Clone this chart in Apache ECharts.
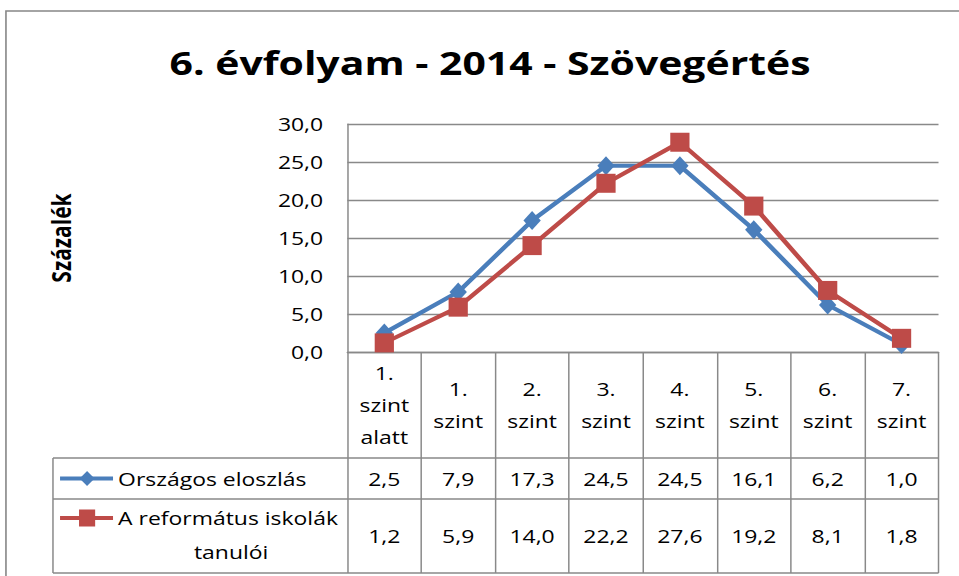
<!DOCTYPE html>
<html><head><meta charset="utf-8">
<script src="https://cdn.jsdelivr.net/npm/echarts@6/dist/echarts.min.js"></script>
<style>
html,body{margin:0;padding:0;background:#fff;overflow:hidden}
#c{width:773px;height:576px;transform:scaleX(1.2406);transform-origin:0 0}
</style>
</head><body><div id="c"></div>
<script>
const chartTitle = '6. évfolyam - 2014 - Szövegértés';
const yAxisTitle = 'Százalék';
const categories = ['1.\nszint\nalatt', '1.\nszint', '2.\nszint', '3.\nszint', '4.\nszint', '5.\nszint', '6.\nszint', '7.\nszint'];
const seriesNames = ['Országos eloszlás', 'A református iskolák tanulói'];
const orszagos = [2.5, 7.9, 17.3, 24.5, 24.5, 16.1, 6.2, 1.0];
const reformatus = [1.2, 5.9, 14.0, 22.2, 27.6, 19.2, 8.1, 1.8];
const yTicks = [0, 5, 10, 15, 20, 25, 30];
const colors = ['#4A7EBB', '#BE4B48'];

const FONT = '"Open Sans", sans-serif';
const FS = 18.5;
const fmt = v => v.toFixed(1).replace('.', ',');
const gray = '#898989';

const chart = echarts.init(document.getElementById('c'), null, { renderer: 'svg' });
chart.setOption({
  animation: false,
  title: {
    text: chartTitle, left: 390, top: 41, textAlign: 'center',
    textStyle: { fontFamily: FONT, fontWeight: 'bold', fontSize: 33, color: '#000' }
  },
  grid: { left: 280, right: 16.5, top: 124, bottom: 224 },
  xAxis: {
    type: 'category', data: categories, boundaryGap: true,
    axisLine: { lineStyle: { color: gray, width: 1.3 } },
    axisTick: { show: true, interval: 0, length: 221, lineStyle: { color: gray, width: 1.2 } },
    axisLabel: { interval: 0, margin: 53, verticalAlign: 'middle', fontFamily: FONT, fontSize: FS, lineHeight: 32, color: '#000' },
    splitLine: { show: false }
  },
  yAxis: {
    type: 'value', min: yTicks[0], max: yTicks[yTicks.length - 1], interval: yTicks[1] - yTicks[0],
    name: yAxisTitle, nameLocation: 'middle', nameGap: 220, nameRotate: 90,
    nameTextStyle: { fontFamily: FONT, fontWeight: 'bold', fontSize: 21, color: '#000' },
    axisLine: { show: true, lineStyle: { color: gray, width: 1.2 } },
    axisTick: { show: false },
    axisLabel: { margin: 19.5, formatter: fmt, fontFamily: FONT, fontSize: FS, color: '#000' },
    splitLine: { lineStyle: { color: gray, width: 1.3 } }
  },
  series: [
    { name: seriesNames[0], type: 'line', data: orszagos, color: colors[0],
      lineStyle: { width: 4 }, symbol: 'diamond', symbolSize: [14, 19], itemStyle: { color: colors[0] } },
    { name: seriesNames[1], type: 'line', data: reformatus, color: colors[1],
      lineStyle: { width: 4 }, symbol: 'rect', symbolSize: [15.5, 19], itemStyle: { color: colors[1] } }
  ]
});

function build() {
  const px = i => chart.convertToPixel({ xAxisIndex: 0 }, i);
  const step = px(1) - px(0);
  const xL = px(0) - step / 2;
  const xR = xL + step * categories.length;
  const tL = 42.7, yH = 458, y1 = 499, y2 = 573;
  const els = [];
  els.push({ type: 'rect', shape: { x: 4.8, y: 11, width: 1000, height: 700 }, style: { fill: 'none', stroke: '#878787', lineWidth: 1.3 }, z: 0 });
  [yH, y1, y2].forEach(y => els.push({ type: 'line', shape: { x1: tL, y1: y, x2: xR, y2: y }, style: { stroke: gray, lineWidth: 1.3 } }));
  els.push({ type: 'line', shape: { x1: tL, y1: yH, x2: tL, y2: y2 }, style: { stroke: gray, lineWidth: 1.2 } });
  const rows = [orszagos, reformatus];
  const rowC = [(yH + y1) / 2, (y1 + y2) / 2];
  rows.forEach((arr, r) => {
    arr.forEach((v, i) => {
      els.push({ type: 'text', x: px(i), y: rowC[r],
        style: { text: fmt(v), align: 'center', verticalAlign: 'middle', font: FS + 'px ' + FONT, fill: '#000' } });
    });
  });
  // legend keys inside the data table
  const kx1 = 48.4, kx2 = 91.1, kc = 70.2;
  const ky = [rowC[0], 518];
  els.push({ type: 'line', shape: { x1: kx1, y1: ky[0], x2: kx2, y2: ky[0] }, style: { stroke: colors[0], lineWidth: 4 } });
  els.push({ type: 'polygon', shape: { points: [[kc, ky[0] - 7.5], [kc + 6, ky[0]], [kc, ky[0] + 7.5], [kc - 6, ky[0]]] }, style: { fill: colors[0] } });
  els.push({ type: 'line', shape: { x1: kx1, y1: ky[1], x2: kx2, y2: ky[1] }, style: { stroke: colors[1], lineWidth: 4 } });
  els.push({ type: 'rect', shape: { x: kc - 6.5, y: ky[1] - 8.5, width: 13, height: 17 }, style: { fill: colors[1] } });
  els.push({ type: 'text', x: 95.2, y: ky[0], style: { text: seriesNames[0], align: 'left', verticalAlign: 'middle', font: FS + 'px ' + FONT, fill: '#000' } });
  els.push({ type: 'text', x: 95.2, y: ky[1], style: { text: 'A református iskolák', align: 'left', verticalAlign: 'middle', font: FS + 'px ' + FONT, fill: '#000' } });
  els.push({ type: 'text', x: 186.3, y: 552, style: { text: 'tanulói', align: 'center', verticalAlign: 'middle', font: FS + 'px ' + FONT, fill: '#000' } });
  chart.setOption({ graphic: { elements: els } });
}
build();
</script>
</body></html>
